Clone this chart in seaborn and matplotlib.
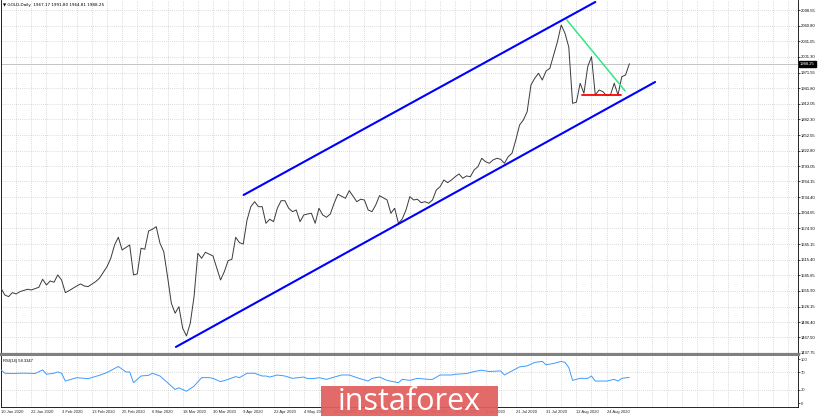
import numpy as np
import seaborn as sns
import matplotlib.pyplot as plt
import matplotlib.transforms as mtransforms
from matplotlib.patches import Rectangle

# Daily close, x = trading day counted from 10 Jan 2020
day = [0, 1, 2, 3, 4, 5, 7, 8, 10, 11, 12, 13, 14, 15, 16, 17, 18, 20, 21, 22,
       23, 25, 26, 28, 29, 30, 31, 32, 34, 35, 36, 37, 38, 39, 40, 41, 42, 43,
       44, 45, 46, 47, 48, 49, 50, 51, 52, 53, 54, 56, 58, 59, 60, 61, 62, 63,
       64, 65, 66, 67, 68, 69, 70, 71, 72, 73, 74, 75, 76, 77, 78, 79, 80, 81,
       82, 83, 84, 85, 86, 87, 88, 89, 91, 92, 94, 95, 96, 97, 98, 99, 100,
       102, 103, 104, 105, 106, 107, 108, 109, 110, 111, 112, 113, 114, 115,
       116, 117, 118, 119, 120, 121, 122, 123, 124, 125, 126, 127, 128, 129,
       130, 131, 132, 133, 134, 135, 136, 137, 138, 139, 140, 141, 142, 143,
       144, 145, 146, 147, 148, 149, 150, 151, 152, 153, 154, 155, 156, 157,
       158, 159, 160, 161, 162, 163, 164, 165, 166]
close = [1561.0, 1548.2, 1545.0, 1552.6, 1550.1, 1554.5, 1559.0, 1557.7, 1562.8,
         1578.1, 1567.2, 1574.8, 1572.4, 1586.3, 1576.7, 1552.6, 1556.4, 1565.3,
         1569.1, 1565.3, 1564.0, 1573.5, 1580.0, 1602.0, 1618.0, 1643.3, 1658.0,
         1633.8, 1643.3, 1586.3, 1588.2, 1637.1, 1635.2, 1670.0, 1673.2, 1678.2,
         1646.6, 1630.6, 1583.0, 1532.4, 1513.4, 1525.9, 1484.8, 1470.2, 1494.3,
         1545.0, 1627.5, 1618.0, 1629.4, 1622.4, 1576.7, 1592.5, 1613.5, 1616.1,
         1658.0, 1647.7, 1645.2, 1690.9, 1716.2, 1725.7, 1716.2, 1716.2, 1684.6,
         1692.3, 1687.7, 1713.2, 1727.6, 1727.6, 1713.2, 1706.7, 1710.0, 1687.7,
         1700.4, 1702.3, 1703.7, 1684.6, 1713.2, 1700.4, 1696.1, 1702.3, 1722.7,
         1739.8, 1732.2, 1746.7, 1725.7, 1730.3, 1729.0, 1710.0, 1706.7, 1719.5,
         1737.2, 1729.0, 1703.7, 1713.2, 1684.6, 1692.9, 1710.0, 1735.3, 1729.0,
         1730.3, 1723.8, 1725.7, 1722.7, 1729.0, 1748.0, 1754.3, 1767.0, 1761.9,
         1767.0, 1773.3, 1778.5, 1770.3, 1774.7, 1773.3, 1786.1, 1792.4, 1808.3,
         1801.9, 1798.8, 1805.1, 1808.3, 1806.4, 1798.8, 1811.4, 1817.9, 1843.2,
         1871.7, 1881.2, 1897.0, 1947.8, 1960.6, 1970.1, 1957.3, 1974.5, 1979.6,
         2004.9, 2030.2, 2062.0, 2046.2, 2020.0, 1913.0, 1914.9, 1951.1, 1932.0,
         1982.6, 2001.7, 1928.8, 1938.3, 1935.1, 1927.5, 1928.8, 1951.1, 1928.8,
         1963.6, 1966.9, 1988.25]

# RSI(14)
rsi_day = [0, 1, 3, 5, 7, 9, 11, 12, 14, 15, 16, 17, 20, 23, 26, 28, 31, 33, 34,
           35, 37, 39, 40, 42, 44, 46, 47, 49, 51, 53, 55, 56, 58, 60, 62, 63,
           65, 67, 69, 70, 71, 73, 75, 77, 80, 81, 83, 84, 86, 89, 90, 92, 94,
           97, 98, 100, 102, 105, 106, 108, 110, 113, 114, 116, 119, 120, 123,
           125, 127, 129, 132, 133, 135, 137, 139, 141, 143, 144, 146, 148, 149,
           150, 151, 153, 155, 156, 157, 160, 162, 163, 164, 166]
rsi_value = [75.3, 67.7, 67.0, 67.7, 67.7, 67.0, 75.3, 65.4, 67.7, 70.7, 67.7,
             49.9, 57.7, 55.4, 63.0, 69.3, 83.1, 70.7, 70.7, 46.2, 61.4, 63.0,
             67.7, 61.4, 46.2, 30.9, 34.6, 26.8, 38.3, 57.7, 57.7, 56.1, 48.5,
             53.8, 60.0, 57.7, 67.7, 67.7, 61.4, 61.4, 59.1, 63.7, 61.4, 56.1,
             59.1, 55.4, 56.1, 57.7, 53.8, 61.4, 63.7, 63.7, 57.7, 49.9, 56.1,
             59.1, 51.5, 46.2, 53.8, 51.5, 56.1, 53.8, 53.8, 63.7, 63.7, 65.4,
             67.0, 71.6, 74.6, 71.6, 73.0, 63.7, 73.0, 82.2, 84.5, 92.4, 94.7,
             86.8, 90.1, 94.7, 92.4, 80.8, 51.5, 56.1, 56.1, 61.4, 49.9, 49.9,
             53.8, 49.9, 56.1, 58.33]

price_ticks = [2090.55, 2060.80, 2031.05, 2001.30, 1971.55, 1941.80, 1912.05,
               1882.30, 1852.55, 1822.80, 1793.05, 1764.15, 1734.40, 1704.65,
               1674.90, 1645.15, 1615.40, 1585.65, 1555.90, 1526.15, 1496.40,
               1467.50, 1437.75]
rsi_ticks = [0, 30, 70, 100]
date_labels = ["10 Jan 2020", "22 Jan 2020", "3 Feb 2020", "13 Feb 2020",
               "25 Feb 2020", "6 Mar 2020", "18 Mar 2020", "30 Mar 2020",
               "9 Apr 2020", "22 Apr 2020", "4 May 2020", "14 May 2020",
               "26 May 2020", "5 Jun 2020", "17 Jun 2020", "29 Jun 2020",
               "9 Jul 2020", "21 Jul 2020", "31 Jul 2020", "12 Aug 2020",
               "24 Aug 2020"]

# drawn objects (day, price)
channel_upper_day = [64.1, 157.0]
channel_upper_price = [1738.5, 2105.8]
channel_lower_day = [46.2, 172.8]
channel_lower_price = [1449.2, 1953.5]
resist_day = [149.5, 164.9]
resist_price = [2071.5, 1936.4]
support_day = [153.5, 163.7]
support_price = [1928.8, 1928.8]

ohlc = [1967.17, 1991.80, 1964.81, 1988.25]
last_price = 1988.25
rsi_last = 58.3347

# ---------------------------------------------------------------------------
sns.set_style("white")
plt.rcParams['font.family'] = ['Liberation Sans', 'DejaVu Sans']

W, H = 820, 417
fig = plt.figure(figsize=(W / 100, H / 100), dpi=100)
ax = fig.add_axes([1 / W, 1 - 354 / H, 796.7 / W, 354 / H])
ax_rsi = fig.add_axes([1 / W, 1 - 406.5 / H, 796.7 / W, 50.5 / H])

grid_kw = dict(color='#b9b9b9', linestyle=(0, (1, 2)), linewidth=0.5)
fs = 3

# price pane
sns.lineplot(x=day, y=close, ax=ax, color='#3a3a3a', linewidth=0.7,
             estimator=None, sort=False, zorder=3)
ax.axhline(last_price, color='#c4c4c4', linewidth=0.7, zorder=2)
sns.lineplot(x=channel_upper_day, y=channel_upper_price, ax=ax,
             color='#0000ff', linewidth=1.5, estimator=None, zorder=4)
sns.lineplot(x=channel_lower_day, y=channel_lower_price, ax=ax,
             color='#0000ff', linewidth=1.5, estimator=None, zorder=4)
sns.lineplot(x=resist_day, y=resist_price, ax=ax, color='#2fe885',
             linewidth=1.1, estimator=None, zorder=4)
sns.lineplot(x=support_day, y=support_price, ax=ax, color='#ff0000',
             linewidth=1.3, estimator=None, zorder=4)

xmin, xmax = 1 / 3.79, 797.7 / 3.79
grid_bars = np.arange(0, int(xmax) + 1, 4)
ax.set_xlim(xmin, xmax)
ax.set_ylim(1435.8, 2109.6)
ax.set_xticks(grid_bars)
ax.tick_params(axis='x', labelbottom=False, length=0)
ax.yaxis.tick_right()
ax.set_yticks(price_ticks)
ax.set_yticklabels([f"{v:.2f}" for v in price_ticks])
ax.tick_params(axis='y', labelsize=fs, length=1.5, width=0.5, pad=1,
               colors='black')
ax.grid(True, **grid_kw)
ax.set_xlabel("")
ax.set_ylabel("")
for s in ['left', 'right']:
    ax.spines[s].set_color('black')
    ax.spines[s].set_linewidth(0.6)
ax.spines['top'].set_visible(False)
ax.spines['bottom'].set_color('#808080')
ax.spines['bottom'].set_linewidth(2.3)

ax.text(0.003, 0.992,
        "\u25bc GOLD,Daily  " + " ".join(f"{v:.2f}" for v in ohlc),
        transform=ax.transAxes, ha='left', va='top', fontsize=fs,
        color='black', family=['DejaVu Sans'])

trans = mtransforms.blended_transform_factory(ax.transAxes, ax.transData)
ax.text(1.003, last_price, f"{last_price:.2f}", transform=trans, ha='left',
        va='center', fontsize=fs, color='white', clip_on=False, zorder=6,
        bbox=dict(boxstyle='square,pad=0.25', fc='black', ec='black'))

# RSI pane
sns.lineplot(x=rsi_day, y=rsi_value, ax=ax_rsi, color='#3d9bff',
             linewidth=0.7, estimator=None, sort=False, zorder=3)
ax_rsi.set_xlim(xmin, xmax)
ax_rsi.set_ylim(-7.9, 106.9)
ax_rsi.set_xticks(grid_bars)
xlabels = []
for b in grid_bars:
    if b % 8 == 0 and b // 8 < len(date_labels):
        xlabels.append(date_labels[b // 8])
    else:
        xlabels.append("")
ax_rsi.set_xticklabels(xlabels)
for lbl in ax_rsi.get_xticklabels():
    lbl.set_horizontalalignment('left')
ax_rsi.tick_params(axis='x', labelsize=fs, length=1.5, width=0.5, pad=1)
ax_rsi.yaxis.tick_right()
ax_rsi.set_yticks(rsi_ticks)
ax_rsi.set_yticklabels([str(v) for v in rsi_ticks])
ax_rsi.tick_params(axis='y', labelsize=fs, length=1.5, width=0.5, pad=1)
ax_rsi.grid(True, axis='x', **grid_kw)
for lvl in (30, 70):
    ax_rsi.axhline(lvl, **grid_kw)
ax_rsi.set_xlabel("")
ax_rsi.set_ylabel("")
for s in ['left', 'right', 'bottom']:
    ax_rsi.spines[s].set_color('black')
    ax_rsi.spines[s].set_linewidth(0.6)
ax_rsi.spines['top'].set_visible(False)
ax_rsi.text(0.003, 0.95, f"RSI(14) {rsi_last:.4f}", transform=ax_rsi.transAxes,
            ha='left', va='top', fontsize=fs, color='black')

# watermark
fig.add_artist(Rectangle((321 / W, 1 - 416 / H), 177 / W, 30 / H,
                         transform=fig.transFigure, facecolor='#e0605f',
                         edgecolor='none', alpha=0.93, zorder=10))
fig.text(409.5 / W, 1 - 401.5 / H, "instaforex", color='white', fontsize=22,
         ha='center', va='center', family=['Open Sans', 'DejaVu Sans'],
         zorder=11)

fig.savefig("out.png", dpi=100)
